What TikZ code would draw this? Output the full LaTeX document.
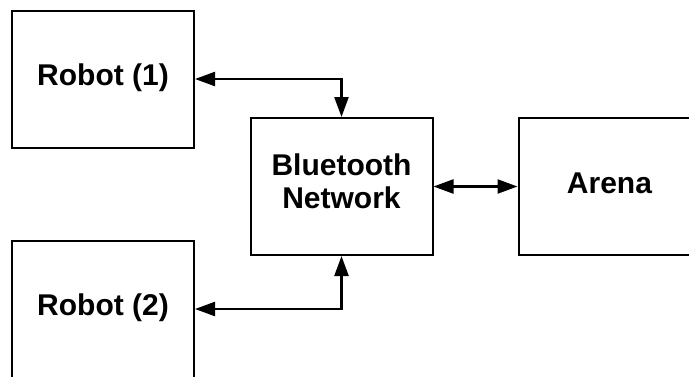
\documentclass[tikz,border=0pt]{standalone}
\usepackage{fontspec}
\setmainfont{Liberation Sans}
\usetikzlibrary{arrows.meta}

\begin{document}
\begin{tikzpicture}[x=1pt, y=-1pt]
	% Define styles
	\tikzstyle{block} = [rectangle, minimum width=182pt, minimum height=137pt, text centered, align=center, text height=22pt, text depth=9pt, draw=black, line width=2pt, font=\fontsize{30}{33}\selectfont\bfseries]
	\tikzstyle{arrow} = [line width=2.3pt, {Triangle[length=20pt,width=14pt]}-{Triangle[length=20pt,width=14pt]}]
	
	\useasboundingbox (0,0) rectangle (689,376);
	
	% Nodes
	\node (robot1) [block] at (103,79) {Robot (1)};
	\node (robot2) [block] at (103,309) {Robot (2)};
	\node (bluetooth) [block, text height=55pt, text depth=11pt] at (341.5,186.5) {Bluetooth\\Network};
	\node (arena) [block] at (609.5,186.5) {Arena};
	
	% Arrows
	\draw [arrow] (robot1.east) -| (bluetooth.north);
	\draw [arrow] (robot2.east) -| (bluetooth.south);
	\draw [arrow] (bluetooth.east) -- (arena.west);
\end{tikzpicture}
\end{document}
